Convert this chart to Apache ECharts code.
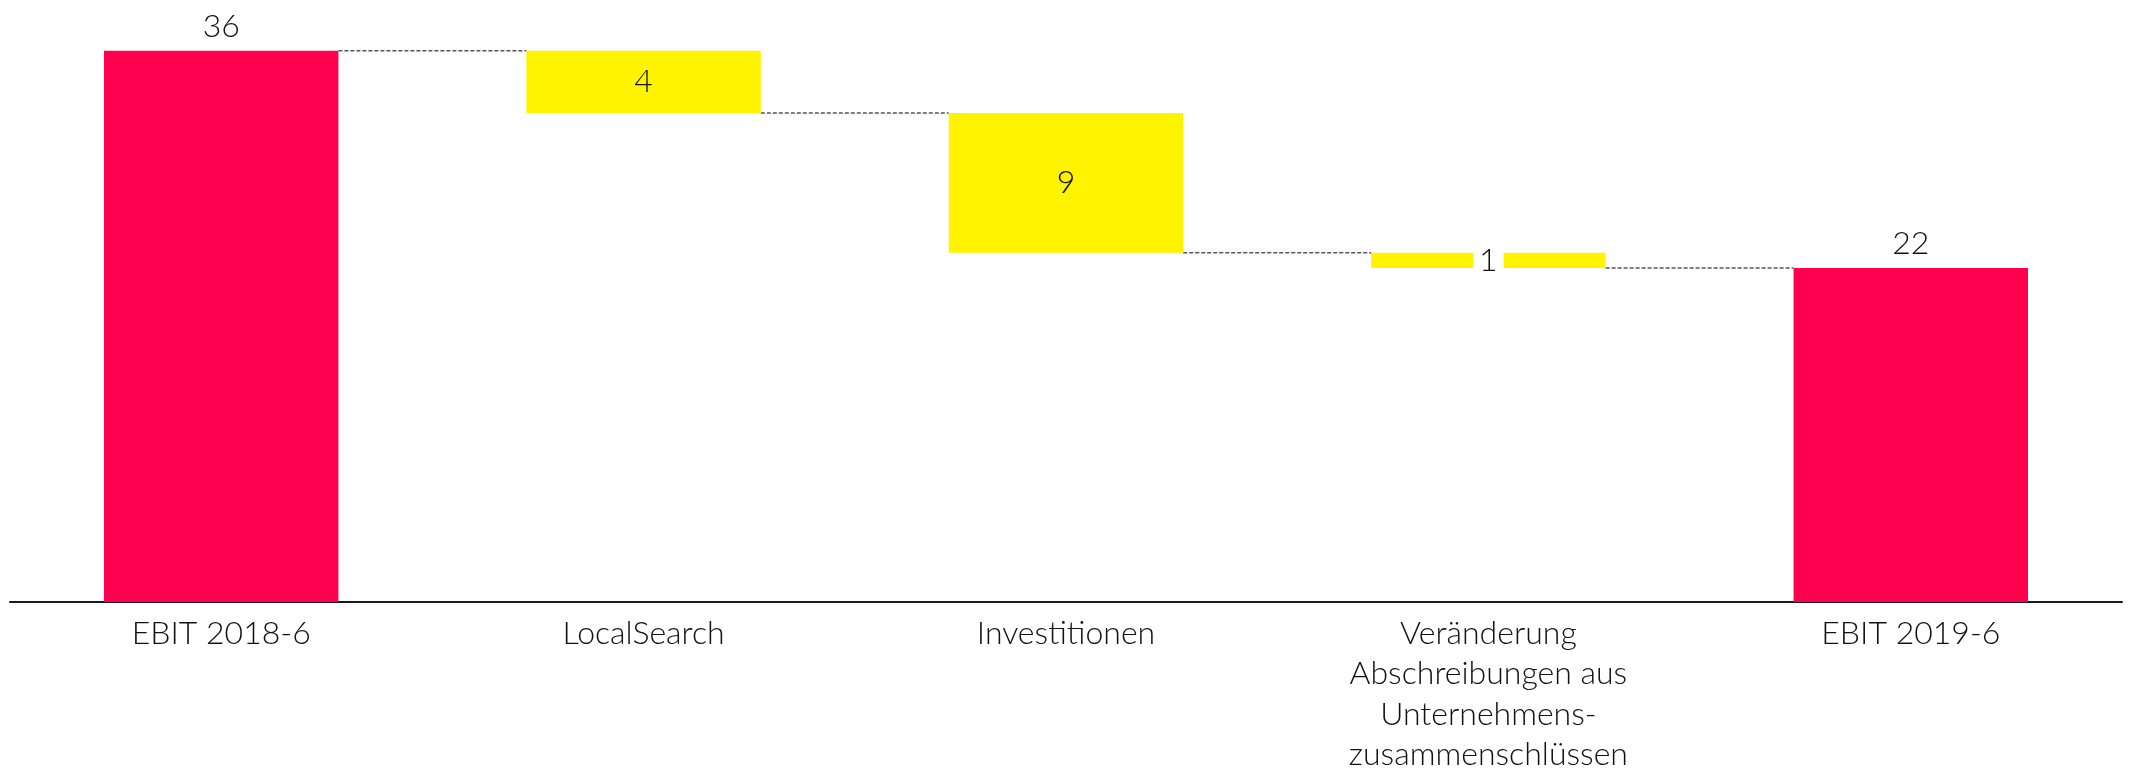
<!DOCTYPE html>
<html>
<head>
<meta charset="utf-8">
<script src="https://cdn.jsdelivr.net/npm/echarts@6/dist/echarts.min.js"></script>
<style>
html,body{margin:0;padding:0;background:#fff;}
#chart{width:2130px;height:775px;}
</style>
</head>
<body>
<div id="chart"></div>
<script>
// ---- data ----
const categories = ['EBIT 2018-6', 'LocalSearch', 'Investitionen', 'Veränderung\nAbschreibungen aus\nUnternehmens-\nzusammenschlüssen', 'EBIT 2019-6'];
const kinds = ['total', 'delta', 'delta', 'delta', 'total'];
const values = [36.3, -4.1, -9.2, -1.0, 22.0];

// ---- derived waterfall layout (through library stacking) ----
const baseVals = [], barVals = [], levels = [];
let run = 0;
values.forEach((v, i) => {
  if (kinds[i] === 'total') {
    baseVals.push(0); barVals.push(v); run = v;
  } else {
    const next = run + v;
    baseVals.push(Math.min(run, next)); barVals.push(Math.abs(v)); run = next;
  }
  levels.push(run);
});
const connectors = [];
for (let i = 0; i < categories.length - 1; i++) connectors.push([i, levels[i]]);

const RED = '#FF004F', YELLOW = '#FFF300';
const FONT = 'Lato, "Noto Sans", sans-serif';
const BAR_FRAC = 0.555;

const chart = echarts.init(document.getElementById('chart'));
chart.setOption({
  animation: false,
  backgroundColor: '#fff',
  grid: { left: 10, right: 8, top: 25, bottom: 171 },
  xAxis: {
    type: 'category',
    data: categories,
    axisTick: { show: false },
    axisLine: { lineStyle: { color: '#1a1a1a', width: 2 } },
    axisLabel: { color: '#111', fontFamily: FONT, fontWeight: 300, fontSize: 32, lineHeight: 40.5, margin: 11, interval: 0 }
  },
  yAxis: { type: 'value', min: 0, max: 38, show: false, splitLine: { show: false } },
  series: [
    {
      type: 'bar', stack: 'wf', data: baseVals, barWidth: (BAR_FRAC * 100) + '%',
      itemStyle: { color: 'transparent' }, silent: true
    },
    {
      type: 'bar', stack: 'wf', barWidth: (BAR_FRAC * 100) + '%',
      data: barVals.map((v, i) => {
        const isTotal = kinds[i] === 'total';
        const small = !isTotal && v < 2;
        return {
          value: v,
          itemStyle: { color: isTotal ? RED : YELLOW },
          label: {
            show: true,
            position: isTotal ? 'top' : 'inside',
            distance: 8,
            formatter: String(Math.round(Math.abs(values[i]))),
            color: '#111', fontFamily: FONT, fontWeight: 300, fontSize: 32,
            backgroundColor: small ? '#fff' : 'transparent',
            padding: small ? [0, 6] : 0
          }
        };
      })
    },
    {
      type: 'custom',
      data: connectors,
      z: 1,
      renderItem: function (params, api) {
        const i = api.value(0), lvl = api.value(1);
        const p1 = api.coord([i, lvl]);
        const p2 = api.coord([i + 1, lvl]);
        const half = api.size([1, 0])[0] * BAR_FRAC / 2;
        return {
          type: 'line',
          shape: { x1: p1[0] + half, y1: p1[1], x2: p2[0] - half, y2: p2[1] },
          style: { stroke: '#555', lineWidth: 1.4, lineDash: [4, 2] }
        };
      }
    }
  ]
});
</script>
</body>
</html>
